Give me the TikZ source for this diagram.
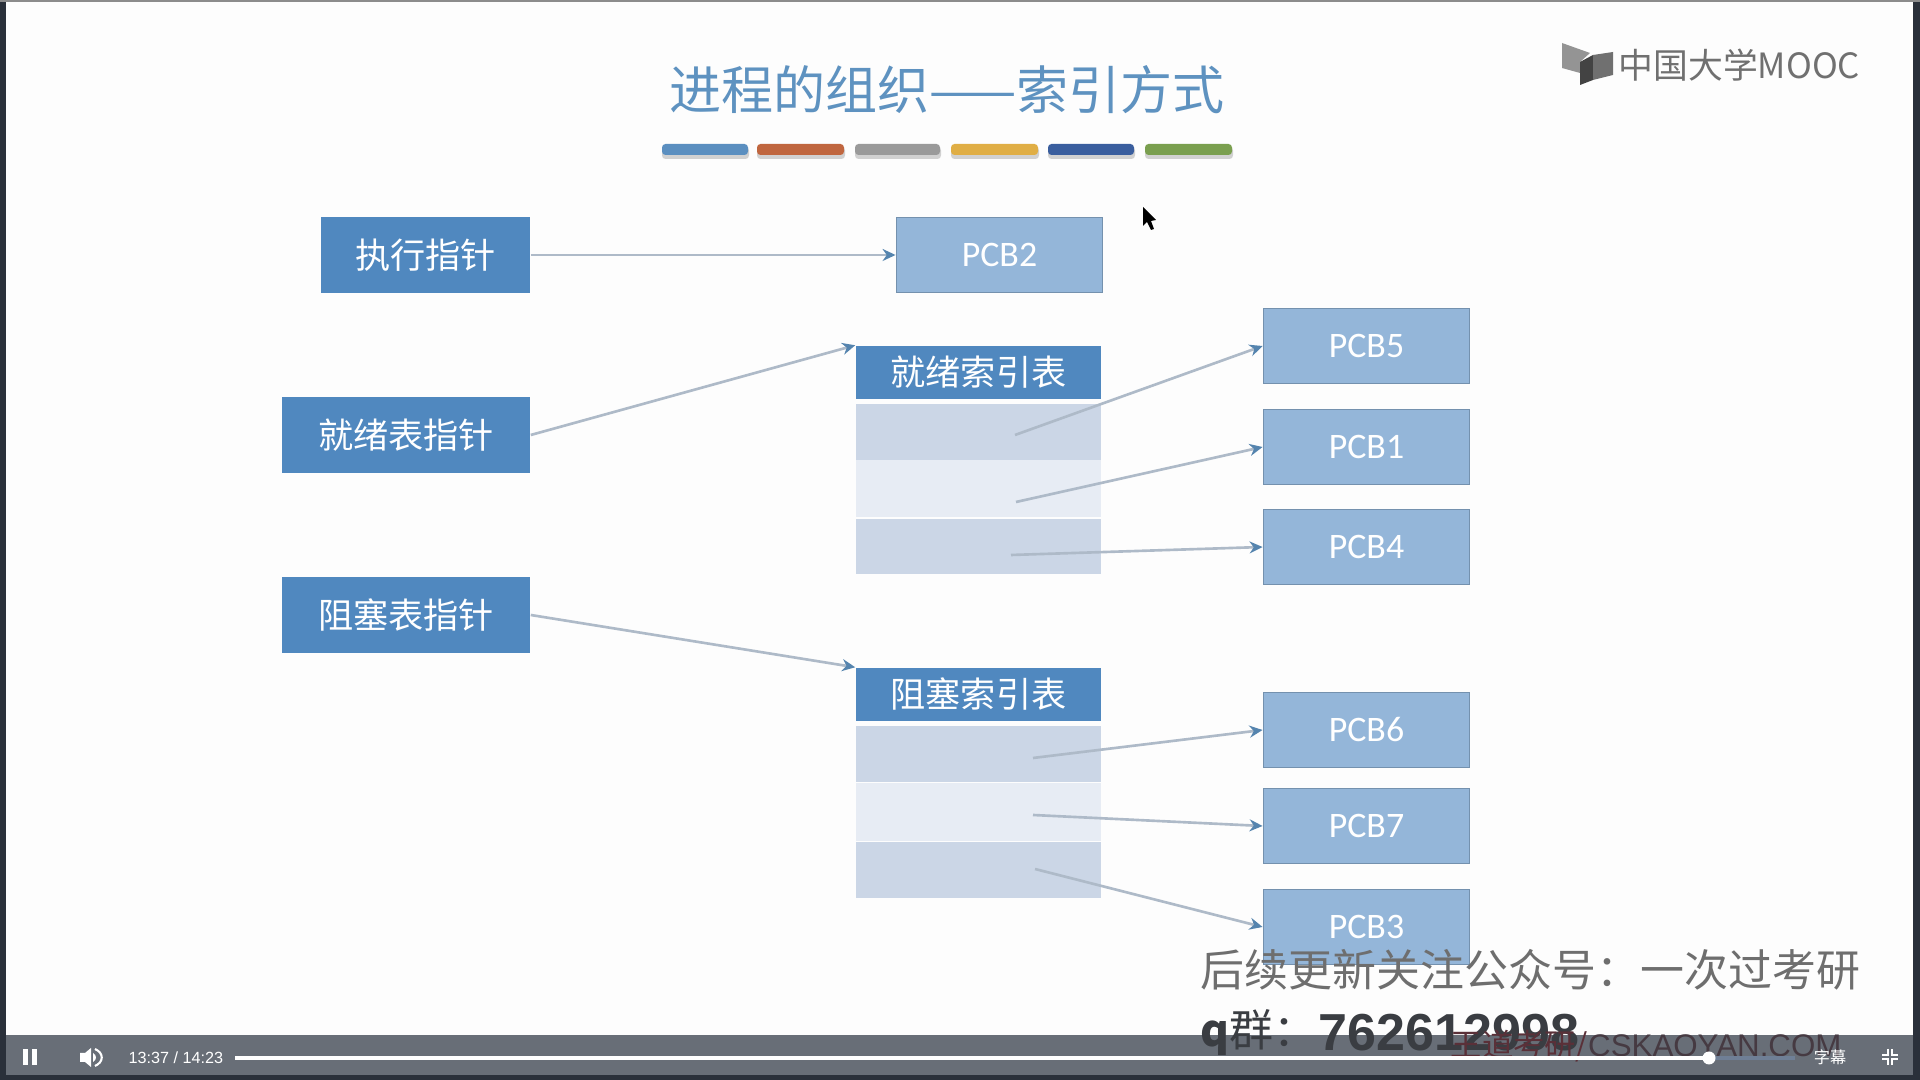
\documentclass[tikz,border=0pt]{standalone}
\usepackage{fontspec}
\usepackage{xcolor}
\usetikzlibrary{arrows.meta,positioning,calc}
\setmainfont{Noto Sans CJK SC}
\newfontfamily\pcbfont{Carlito}
\newfontfamily\barfont{Liberation Sans}
\definecolor{paper}{HTML}{FDFDFD}
\definecolor{edgedark}{HTML}{2A303A}
\definecolor{barbg}{HTML}{686E77}
\definecolor{titleblue}{HTML}{5E92C0}
\definecolor{ptrblue}{HTML}{5088BF}
\definecolor{pcbblue}{HTML}{94B6D9}
\definecolor{pcbline}{HTML}{7491AE}
\definecolor{rowdark}{HTML}{CBD6E6}
\definecolor{rowlight}{HTML}{E7ECF4}
\definecolor{arrgray}{HTML}{AEBAC8}
\definecolor{tipblue}{HTML}{5584AE}
\definecolor{overgray}{HTML}{6E6E6E}
\definecolor{overink}{HTML}{3A3D42}
\definecolor{logogray}{HTML}{707070}
\definecolor{markred}{HTML}{5A3038}
\definecolor{markdark}{HTML}{463A42}
\definecolor{bufblue}{HTML}{6F7F96}
\tikzset{
  ptrbox/.style={fill=ptrblue,minimum height=0.75cm,inner sep=0pt,
                 text=white,font=\fontsize{10}{12}\selectfont},
  pcbbox/.style={draw=pcbline,fill=pcbblue,line width=0.5pt,
                 minimum width=2.06cm,minimum height=0.75cm,inner sep=0pt,
                 text=white,font=\pcbfont\fontsize{10.2}{12}\selectfont},
  headbox/.style={fill=ptrblue,minimum width=2.45cm,minimum height=0.53cm,inner sep=0pt,
                  text=white,font=\fontsize{10}{12}\selectfont},
  rowbox/.style={minimum width=2.45cm,minimum height=0.55cm,inner sep=0pt},
  softarr/.style={-{Stealth[length=1.3mm,width=1.2mm,color=tipblue]},line width=0.75pt,color=arrgray},
  overtext/.style={anchor=west,inner sep=0pt,text=overgray,font=\fontsize{12.5}{15}\selectfont},
  bartext/.style={inner sep=0pt,text=white,font=\barfont\fontsize{4.6}{6}\selectfont}
}

\begin{document}
\begin{tikzpicture}[x=0.01cm,y=-0.01cm]
      \useasboundingbox (0,0) rectangle (1920,1080);
      \fill[paper] (0,0) rectangle (1920,1080);
      % title and colour strip
      \node[text=titleblue,font=\fontsize{14.8}{18}\selectfont,inner sep=0pt] (title) at (947,90) {进程的组织——索引方式};
      \foreach \xa/\xb/\col in {662/748/5B8FC0,757/844/C0663F,855/940/9A9A9A,951/1038/E0AE45,1048/1134/3A5E9E,1145/1232/7A9F4F}{
        \definecolor{stripcol}{HTML}{\col}
        \fill[black!18,rounded corners=1pt] (\xa,147) rectangle (\xb+1,159);
        \fill[stripcol,rounded corners=1pt] (\xa,144) rectangle (\xb,155);
      }
      % logo
      \fill[logogray!75] (1562,43) -- (1590,53) -- (1580,62) -- (1580,73) -- (1562,68) -- cycle;
      \fill[logogray!60!black] (1580,62) -- (1593,55) -- (1593,80) -- (1580,85) -- cycle;
      \fill[logogray] (1593,55) -- (1613,52) -- (1613,75) -- (1593,80) -- cycle;
      \node[anchor=west,inner sep=0pt,text=logogray,font=\fontsize{9.9}{11}\selectfont] (logo) at (1618,65) {中国大学MOOC};
      % pointers
      \node[ptrbox,minimum width=2.09cm] (execptr) at (425.5,255) {执行指针};
      \node[ptrbox,minimum width=2.48cm] (readyptr) at (406,435) {就绪表指针};
      \node[ptrbox,minimum width=2.48cm] (blockptr) at (406,615) {阻塞表指针};
      % index tables
      \node[headbox] (readyhead) at (978.5,372.5) {就绪索引表};
      \node[rowbox,fill=rowdark] (readyA) at (978.5,432) {};
      \node[rowbox,fill=rowlight,minimum height=0.57cm] (readyB) at (978.5,488.5) {};
      \node[rowbox,fill=rowdark] (readyC) at (978.5,546.5) {};
      \node[headbox] (blockhead) at (978.5,694.5) {阻塞索引表};
      \node[rowbox,fill=rowdark] (blockA) at (978.5,754) {};
      \node[rowbox,fill=rowlight,minimum height=0.57cm] (blockB) at (978.5,812) {};
      \node[rowbox,fill=rowdark] (blockC) at (978.5,870) {};
      % process blocks
      \foreach \name/\yy in {2/255}{
        \node[pcbbox] (pcb\name) at (999.5,\yy) {PCB\name};
      }
      \foreach \name/\yy in {5/346,1/447,4/547,6/730,7/826,3/927}{
        \node[pcbbox] (pcb\name) at (1366.5,\yy) {PCB\name};
      }
      % connectors
      \coordinate (readyfromA) at (1015,435);
      \coordinate (readyfromB) at (1016,502);
      \coordinate (readyfromC) at (1011,555);
      \coordinate (blockfromA) at (1033,758);
      \coordinate (blockfromB) at (1033,815);
      \coordinate (blockfromC) at (1035,869);
      \draw[softarr] (execptr.east) -- (pcb2.west);
      \draw[softarr] (readyptr.east) -- (readyhead.north west);
      \draw[softarr] (blockptr.east) -- (blockhead.north west);
      \draw[softarr] (readyfromA) -- (pcb5.west);
      \draw[softarr] (readyfromB) -- (pcb1.west);
      \draw[softarr] (readyfromC) -- (pcb4.west);
      \draw[softarr] (blockfromA) -- (pcb6.west);
      \draw[softarr] (blockfromB) -- (pcb7.west);
      \draw[softarr] (blockfromC) -- (pcb3.west);
      % cursor
      \fill[black] (1143,207) -- (1143,226) -- (1147,222) -- (1151,230) -- (1154,229) -- (1151,221) -- (1156,220) -- cycle;
      % player bar
      \fill[edgedark] (0,0) rectangle (6,1080);
      \fill[edgedark] (1913,0) rectangle (1920,1080);
      \fill[black!45] (0,0) rectangle (1920,2);
      \fill[barbg] (6,1035) rectangle (1913,1075);
      \fill[edgedark] (0,1075) rectangle (1920,1080);
      % overlaid text
      \node[overtext] (notice) at (1200,970) {后续更新关注公众号：一次过考研};
      \node[overtext,text=overink] (qqlabel) at (1200,1033) {\textbf{q}群：};
      \node[anchor=west,inner sep=0pt,text=overink,font=\barfont\bfseries\fontsize{14.8}{18}\selectfont] (qqnum) at (1318,1033) {762612998};
      \node[anchor=west,inner sep=0pt,text=markred,font=\fontsize{8.9}{11}\selectfont] (mark) at (1450,1046) {王道考研/\textcolor{markdark}{\barfont CSKAOYAN.COM}};
      % player controls
      \fill[white] (23,1049) rectangle (28,1065);
      \fill[white] (32,1049) rectangle (37,1065);
      \fill[white] (80,1053) -- (85,1053) -- (91,1048) -- (91,1067) -- (85,1062) -- (80,1062) -- cycle;
      \fill[white] (93,1053) .. controls (97,1055) and (97,1060) .. (93,1062) -- cycle;
      \draw[white,line width=0.6pt] (95,1049) .. controls (104,1053) and (104,1062) .. (95,1066);
      \node[bartext,anchor=west] (timelab) at (128,1058) {13:37\ /\ 14:23};
      \coordinate (trackstart) at (235,1058);
      \coordinate (trackknob) at (1709,1058);
      \coordinate (trackbuf) at (1795,1058);
      \draw[white,line width=1.3pt] (trackstart) -- (trackknob);
      \draw[bufblue,line width=1.3pt] (trackknob) -- (trackbuf);
      \fill[white] (trackknob) circle (6.5);
      \node[bartext] (caption) at (1830,1057) {\fontspec{Noto Sans CJK SC}字幕};
      \foreach \sx/\sy in {1/1,-1/1,1/-1,-1/-1}{
        \draw[white,line width=0.6pt] ($(1890,1057)+(\sx*2,\sy*8)$) -- ($(1890,1057)+(\sx*2,\sy*2)$) -- ($(1890,1057)+(\sx*8,\sy*2)$);
      }
    \end{tikzpicture}
\end{document}
